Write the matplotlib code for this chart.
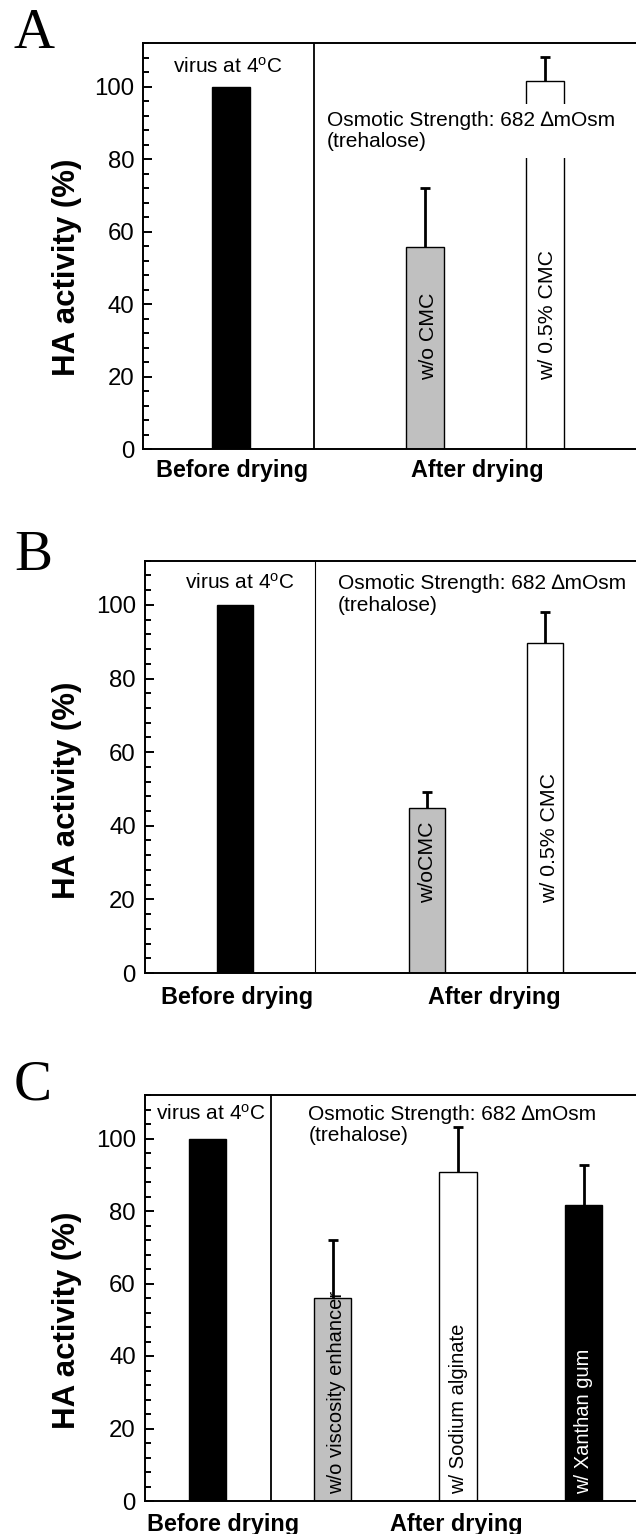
import matplotlib
matplotlib.use('Agg')
import matplotlib.pyplot as plt
from matplotlib.ticker import MultipleLocator

plt.rcParams['font.family'] = ['Liberation Sans', 'DejaVu Sans']
plt.rcParams['mathtext.fontset'] = 'custom'
plt.rcParams['mathtext.rm'] = 'Liberation Sans'
plt.rcParams['mathtext.it'] = 'Liberation Sans:italic'
plt.rcParams['mathtext.bf'] = 'Liberation Sans:bold'

# ---------------- data ----------------
group_labels = ['Before drying', 'After drying']
y_ticks = [0, 20, 40, 60, 80, 100]
virus_label = r'virus at 4$^{\mathrm{o}}$C'
osm_label = 'Osmotic Strength: 682 \u2206mOsm\n(trehalose)'

# Panel A
a_pos = [1.76, 5.64, 8.03]
a_vals = [100, 55.9, 101.7]
a_err = [0, 16.1, 6.4]
a_colors = ['black', '#c0c0c0', 'white']
a_bar_labels = ['', 'w/o CMC', 'w/ 0.5% CMC']

# Panel B
b_pos = [1.79, 5.64, 7.99]
b_vals = [100, 44.8, 89.6]
b_err = [0, 4.3, 8.6]
b_colors = ['black', '#c0c0c0', 'white']
b_bar_labels = ['', 'w/oCMC', 'w/ 0.5% CMC']

# Panel C
c_pos = [1.25, 3.75, 6.26, 8.77]
c_vals = [100, 55.9, 90.8, 81.6]
c_err = [0, 16.2, 12.4, 11.0]
c_colors = ['black', '#c0c0c0', 'white', 'black']
c_bar_labels = ['', 'w/o viscosity enhancer', 'w/ Sodium alginate', 'w/ Xanthan gum']
c_label_colors = ['black', 'black', 'black', 'white']

# ---------------- figure ----------------
W, H = 636, 1534
fig = plt.figure(figsize=(W / 100, H / 100), dpi=100)


def add_axes_px(left, top, right, bottom):
    return fig.add_axes([left / W, 1 - bottom / H, (right - left) / W, (bottom - top) / H])


def draw_panel(ax, pos, vals, err, colors, width, divider, div_lw,
               grp_pos, xpad, bar_labels, label_pos, label_y, label_fs,
               label_colors, virus_xy, osm_xy, osm_bbox):
    ax.set_xlim(0, 10)
    ax.set_ylim(0, 112)
    ax.bar(pos, vals, width=width, color=colors, edgecolor='black',
           linewidth=1.0, zorder=2)
    ep = [p for p, e in zip(pos, err) if e > 0]
    ev = [v for v, e in zip(vals, err) if e > 0]
    ee = [e for e in err if e > 0]
    eb = ax.errorbar(ep, ev, yerr=[[0] * len(ee), ee], fmt='none', ecolor='black',
                     elinewidth=2.0, capsize=3.4, capthick=2.0, zorder=3)
    eb[1][0].set_visible(False)
    ax.axvline(divider, color='black', lw=div_lw, zorder=2)

    for lab, lx, lc in zip(bar_labels, label_pos, label_colors):
        if lab:
            ax.text(lx, label_y, lab, rotation=90, ha='center', va='bottom',
                    fontsize=label_fs, color=lc, zorder=6)

    ax.text(virus_xy[0], virus_xy[1], virus_label, ha='center', va='baseline',
            fontsize=15, zorder=6)
    kw = {}
    if osm_bbox:
        kw['bbox'] = dict(facecolor='white', edgecolor='none', pad=5)
    ax.text(osm_xy[0], osm_xy[1], osm_label, ha='left', va='top', fontsize=15,
            linespacing=1.15, zorder=5, **kw)

    ax.set_yticks(y_ticks)
    ax.yaxis.set_minor_locator(MultipleLocator(4))
    ax.tick_params(axis='y', which='major', direction='in', length=6.5, width=1.4,
                   labelsize=17.3, pad=6.5, right=False)
    ax.tick_params(axis='y', which='minor', direction='in', length=4.3, width=1.4,
                   right=False)
    ax.set_xticks(grp_pos)
    ax.set_xticklabels(group_labels, fontsize=16.8, fontweight='bold')
    ax.tick_params(axis='x', which='both', length=0, pad=xpad, top=False)
    for s in ['left', 'bottom', 'top']:
        ax.spines[s].set_linewidth(1.4)
    ax.spines['right'].set_visible(False)


axA = add_axes_px(143.3, 43.3, 643.3, 449.3)
draw_panel(axA, a_pos, a_vals, a_err, a_colors, 0.76, 3.42, 1.3,
           [1.77, 6.69], 7.3, a_bar_labels, [0, 5.71, 8.09], 19, 15.3,
           ['black'] * 3, (1.70, 103.9), (3.67, 93.3), True)

axB = add_axes_px(145, 560.7, 645, 973)
draw_panel(axB, b_pos, b_vals, b_err, b_colors, 0.72, 3.40, 0.8,
           [1.84, 6.99], 9.4, b_bar_labels, [0, 5.66, 8.09], 19, 15.3,
           ['black'] * 3, (1.89, 104.4), (3.86, 108.3), False)

axC = add_axes_px(145, 1095, 645, 1501)
draw_panel(axC, c_pos, c_vals, c_err, c_colors, 0.75, 2.51, 1.3,
           [1.57, 6.23], 8.9, c_bar_labels, [0, 3.83, 6.27, 8.78], 2, 14.5,
           c_label_colors, (1.31, 105.1), (3.27, 109.3), False)

# y labels
for yc in [267.5, 790, 1320.8]:
    fig.text(67 / W, 1 - yc / H, 'HA activity (%)', rotation=90, ha='center',
             va='center', fontsize=22.5, fontweight='bold')

# panel letters
for letter, base in [('A', 48.3), ('B', 570), ('C', 1099.5)]:
    fig.text(14 / W, 1 - base / H, letter, ha='left', va='baseline', fontsize=41,
             family=['Liberation Serif', 'DejaVu Serif'])

fig.savefig('out.png', dpi=100)
